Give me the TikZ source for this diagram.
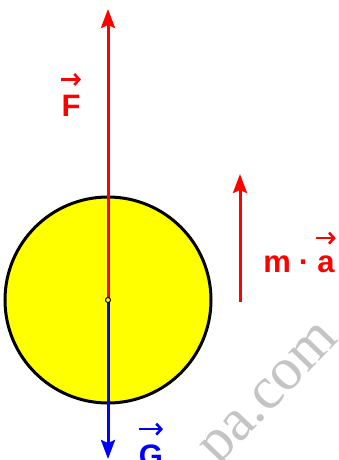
\documentclass[tikz,border=0pt]{standalone}
\usepackage{fontspec}
\setmainfont{Liberation Sans}
\newfontfamily\wmfont{Liberation Serif}
\usetikzlibrary{arrows.meta,positioning}
\definecolor{ballyellow}{HTML}{FFFF00}
\definecolor{wmgray}{HTML}{C4C4C4}

\tikzset{
  force/.style={line width=3pt,-{Stealth[length=19pt,width=14pt,inset=3pt]}},
  lbl/.style={font=\fontsize{31}{31}\selectfont\bfseries,inner sep=0pt},
  vecarr/.style={line width=2.6pt,-{Straight Barb[length=5pt,width=11pt]}}
}

\begin{document}
\begin{tikzpicture}[x=1pt,y=-1pt]
\useasboundingbox (0,0) rectangle (338,460);
% body
\draw[line width=3pt,fill=ballyellow] (108,300) circle (103);
\coordinate (c) at (108,300);
\coordinate (ftip) at (108,9);
\coordinate (gtip) at (108,459);
\coordinate (mabot) at (240,302);
\coordinate (matip) at (240,174);
% forces
\draw[force,red] (c) -- (ftip);
\draw[force,blue] (c) -- (gtip);
\draw[force,red] (mabot) -- (matip);
\draw[line width=1pt,fill=ballyellow] (c) circle (2.5);
% labels
\node[lbl,red,anchor=base] (F) at (71,116) {F};
\draw[vecarr,red] ([xshift=-10pt,yshift=15pt]F.north) -- ([xshift=10pt,yshift=15pt]F.north);
\node[lbl,red,anchor=base] (ma) at (299,272) {m\hspace{8pt}·\hspace{8pt}a};
\draw[vecarr,red] ([xshift=-19pt,yshift=17pt]ma.north east) -- ([xshift=1pt,yshift=17pt]ma.north east);
\node[lbl,blue,anchor=base] (G) at (151,466) {G};
\draw[vecarr,blue] ([xshift=-12pt,yshift=15pt]G.north) -- ([xshift=12pt,yshift=15pt]G.north);
% watermark
\node[wmgray,rotate=46,anchor=base east,inner sep=0pt,font=\wmfont\fontsize{60}{60}\selectfont] (wm) at (340,340) {pa.com};
\end{tikzpicture}
\end{document}
